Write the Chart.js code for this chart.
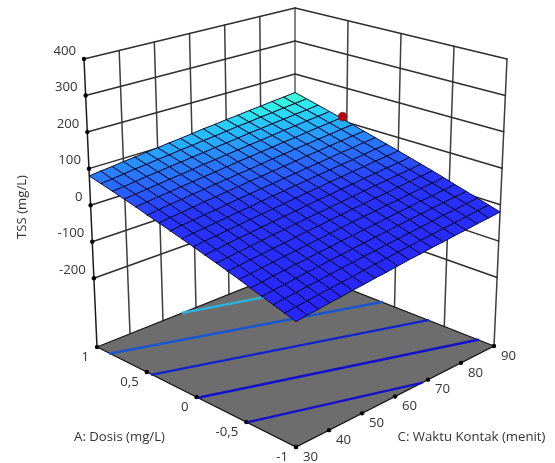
<!DOCTYPE html>
<html>
<head>
<meta charset="utf-8">
<title>TSS surface</title>
<style>
  html, body { margin: 0; padding: 0; background: #fff; }
  #surfaceChart { display: block; }
</style>
<script src="https://cdn.jsdelivr.net/npm/chart.js@4/dist/chart.umd.min.js"></script>
</head>
<body>
<canvas id="surfaceChart" width="555" height="463"></canvas>
<script>
// ── Data ───────────────────────────────────────────────────────────────────
const dosisTicks = [1, 0.5, 0, -0.5, -1];
const waktuTicks = [30, 40, 50, 60, 70, 80, 90];
const tssTicks = [400, 300, 200, 100, 0, -100, -200];

// one row per dosis step (1 down to -1), one column per waktu step (30 to 90)
const dosisGrid = [1, 0.889, 0.778, 0.667, 0.556, 0.444, 0.333, 0.222, 0.111, 0, -0.111, -0.222, -0.333, -0.444, -0.556, -0.667, -0.778, -0.889, -1];
const waktuGrid = [30, 33.33, 36.67, 40, 43.33, 46.67, 50, 53.33, 56.67, 60, 63.33, 66.67, 70, 73.33, 76.67, 80, 83.33, 86.67, 90];
const tssGrid = [
  [80,84,87,91,94,98,101,105,108,112,116,119,123,126,130,133,137,140,144],
  [71,74,78,82,85,89,92,96,99,103,106,110,114,117,121,124,128,131,135],
  [62,65,69,73,76,80,83,87,90,94,97,101,105,108,112,115,119,122,126],
  [53,56,60,63,67,70,74,78,81,85,88,92,95,99,103,106,110,113,117],
  [44,47,51,54,58,61,65,68,72,76,79,83,86,90,93,97,101,104,108],
  [34,38,42,45,49,52,56,59,63,66,70,74,77,81,84,88,91,95,98],
  [25,29,32,36,40,43,47,50,54,57,61,64,68,72,75,79,82,86,89],
  [16,20,23,27,30,34,38,41,45,48,52,55,59,62,66,70,73,77,80],
  [7,11,14,18,21,25,28,32,36,39,43,46,50,53,57,60,64,68,71],
  [-2,2,5,9,12,16,19,23,26,30,34,37,41,44,48,51,55,58,62],
  [-11,-8,-4,0,3,7,10,14,17,21,25,28,32,35,39,42,46,49,53],
  [-20,-17,-13,-10,-6,-2,1,5,8,12,15,19,22,26,30,33,37,40,44],
  [-29,-26,-22,-19,-15,-12,-8,-4,-1,3,6,10,13,17,20,24,28,31,35],
  [-38,-35,-31,-28,-24,-21,-17,-14,-10,-6,-3,1,4,8,11,15,19,22,26],
  [-48,-44,-40,-37,-33,-30,-26,-23,-19,-16,-12,-9,-5,-1,2,6,9,13,16],
  [-57,-53,-50,-46,-42,-39,-35,-32,-28,-25,-21,-18,-14,-10,-7,-3,0,4,7],
  [-66,-62,-59,-55,-52,-48,-44,-41,-37,-34,-30,-27,-23,-20,-16,-12,-9,-5,-2],
  [-75,-71,-68,-64,-61,-57,-54,-50,-46,-43,-39,-36,-32,-29,-25,-22,-18,-14,-11],
  [-84,-80,-77,-73,-70,-66,-63,-59,-56,-52,-48,-45,-41,-38,-34,-31,-27,-24,-20]
];

// floor contours, each from [start, end]
const contourDosis = [[-0.508, -1], [-0.015, -0.84], [0.447, -0.337], [0.87, 0.128], [1, 0.6]];
const contourWaktu = [[30, 68.1], [30, 90], [30, 90], [30, 90], [56, 90]];
const contourColors = ['#1212cc', '#1212cc', '#1224cc', '#1a55d0', '#2cb0dc'];

// design point
const pointDosis = [0.54];
const pointWaktu = [90];
const pointTss = [113];

// ── Camera: where the eight box corners land in the view ───────────────────
const TSS_FLOOR = -388;
const TSS_TOP = 400;
const floorCorners = { front: [296, 447], right: [494, 346], left: [97, 347], back: [295, 268] };
const topCorners = { front: [296, 122], right: [507, 59], left: [84, 59], back: [295, 8] };

function project(dosis, waktu, tss) {
  const u = (dosis + 1) / 2;
  const v = (waktu - 30) / 60;
  const w = (tss - TSS_FLOOR) / (TSS_TOP - TSS_FLOOR);
  const axis = i => {
    const bilerp = c => (1 - u) * (1 - v) * c.front[i] + (1 - u) * v * c.right[i] + u * (1 - v) * c.left[i] + u * v * c.back[i];
    return (1 - w) * bilerp(floorCorners) + w * bilerp(topCorners);
  };
  return { x: axis(0), y: axis(1) };
}

// ── Surface colour ─────────────────────────────────────────────────────────
const colorStops = [
  [-84, 40, 36, 255],
  [30, 40, 52, 255],
  [80, 40, 125, 255],
  [110, 36, 192, 255],
  [130, 46, 238, 232],
  [144, 70, 255, 200]
];

function surfaceColor(tss) {
  let i = 0;
  while (i < colorStops.length - 2 && tss > colorStops[i + 1][0]) i++;
  const a = colorStops[i], b = colorStops[i + 1];
  const t = Math.min(1, Math.max(0, (tss - a[0]) / (b[0] - a[0])));
  const mix = k => Math.round(a[k] + (b[k] - a[k]) * t);
  return `rgb(${mix(1)},${mix(2)},${mix(3)})`;
}

// ── Datasets, pushed back to front ─────────────────────────────────────────
const datasets = [];

function addLine(points, color, width) {
  datasets.push({ data: points, showLine: true, borderColor: color, borderWidth: width, pointRadius: 0, fill: false });
}
function addPolygon(points, fillColor, lineColor, width) {
  datasets.push({
    data: [...points, points[0]], showLine: true, fill: 'shape', backgroundColor: fillColor,
    borderColor: lineColor, borderWidth: width, pointRadius: 0
  });
}
function addDots(points) {
  datasets.push({ data: points, showLine: false, pointRadius: 2.2, pointBackgroundColor: '#000', pointBorderWidth: 0 });
}

function buildWalls() {
  const wallColor = '#2e2e2e';
  waktuTicks.forEach(c => addLine([project(1, c, TSS_FLOOR), project(1, c, TSS_TOP)], c === 90 ? '#5c5c5c' : (c === 30 ? '#1c1c1c' : '#3e3e3e'), 1.5));
  dosisTicks.filter(a => a !== 1).forEach(a => addLine([project(a, 90, TSS_FLOOR), project(a, 90, TSS_TOP)], '#3e3e3e', 1.5));
  tssTicks.forEach(t => {
    addLine([project(1, 30, t), project(1, 90, t)], wallColor, 1.5);
    addLine([project(1, 90, t), project(-1, 90, t)], wallColor, 1.5);
  });
}

function buildFloor() {
  addPolygon([project(1, 30, TSS_FLOOR), project(-1, 30, TSS_FLOOR), project(-1, 90, TSS_FLOOR), project(1, 90, TSS_FLOOR)], '#6e6d6d', '#111', 1.2);
  contourDosis.forEach((d, i) => {
    const pts = d.map((a, j) => project(a, contourWaktu[i][j], TSS_FLOOR));
    addLine(pts, contourColors[i], 2.4);
  });
  addDots(dosisTicks.map(a => project(a, 30, TSS_FLOOR)));
  addDots(waktuTicks.map(c => project(-1, c, TSS_FLOOR)));
  addDots(tssTicks.map(t => project(1, 30, t)));
}

function buildSurface() {
  for (let r = 0; r < dosisGrid.length - 1; r++) {
    for (let c = waktuGrid.length - 2; c >= 0; c--) {
      const mean = (tssGrid[r][c] + tssGrid[r][c + 1] + tssGrid[r + 1][c] + tssGrid[r + 1][c + 1]) / 4;
      addPolygon([
        project(dosisGrid[r], waktuGrid[c], tssGrid[r][c]),
        project(dosisGrid[r], waktuGrid[c + 1], tssGrid[r][c + 1]),
        project(dosisGrid[r + 1], waktuGrid[c + 1], tssGrid[r + 1][c + 1]),
        project(dosisGrid[r + 1], waktuGrid[c], tssGrid[r + 1][c])
      ], surfaceColor(mean), 'rgba(6,6,40,0.95)', 1);
    }
  }
}

function buildPoint() {
  datasets.push({
    data: pointDosis.map((a, i) => project(a, pointWaktu[i], pointTss[i])),
    showLine: false, pointStyle: 'circle', pointRadius: 4.4,
    pointBackgroundColor: '#c00008', pointBorderColor: '#6b3a3a', pointBorderWidth: 0.8
  });
}

// ── Text ───────────────────────────────────────────────────────────────────
const LABEL_FONT = '13.2px "Open Sans"';
const LABEL_COLOR = '#333';

const labelPlugin = {
  id: 'boxLabels',
  afterDraw(chart) {
    const { ctx, scales } = chart;
    const text = (str, p, dx, dy, align) => {
      ctx.textAlign = align;
      ctx.fillText(str, scales.x.getPixelForValue(p.x) + dx, scales.y.getPixelForValue(p.y) + dy);
    };
    ctx.save();
    ctx.font = LABEL_FONT;
    ctx.fillStyle = LABEL_COLOR;
    ctx.textBaseline = 'middle';
    tssTicks.forEach(t => text(String(t), project(1, 30, t), -8, -8, 'right'));
    dosisTicks.forEach(a => text(String(a).replace('.', ','), project(a, 30, TSS_FLOOR), -8, 10, 'right'));
    waktuTicks.forEach(c => text(String(c), project(-1, c, TSS_FLOOR), 7, 10, 'left'));
    text('A: Dosis (mg/L)', { x: 119.5, y: 437 }, 0, 0, 'center');
    text('C: Waktu Kontak (menit)', { x: 471.5, y: 437 }, 0, 0, 'center');
    ctx.translate(22, 207);
    ctx.rotate(-Math.PI / 2);
    ctx.textAlign = 'center';
    ctx.fillText('TSS (mg/L)', 0, 0);
    ctx.restore();
  }
};

// ── Chart ──────────────────────────────────────────────────────────────────
buildWalls();
buildFloor();
buildSurface();
buildPoint();

new Chart(document.getElementById('surfaceChart'), {
  type: 'scatter',
  // Chart.js paints the first dataset last
  data: { datasets: datasets.reverse() },
  options: {
    responsive: false,
    animation: false,
    events: [],
    layout: { padding: 0, autoPadding: false },
    elements: { line: { tension: 0, borderCapStyle: 'round' } },
    plugins: { legend: { display: false }, tooltip: { enabled: false } },
    scales: {
      x: { type: 'linear', min: 0, max: 555, display: false },
      y: { type: 'linear', min: 0, max: 463, reverse: true, display: false }
    }
  },
  plugins: [labelPlugin]
});
</script>
</body>
</html>
